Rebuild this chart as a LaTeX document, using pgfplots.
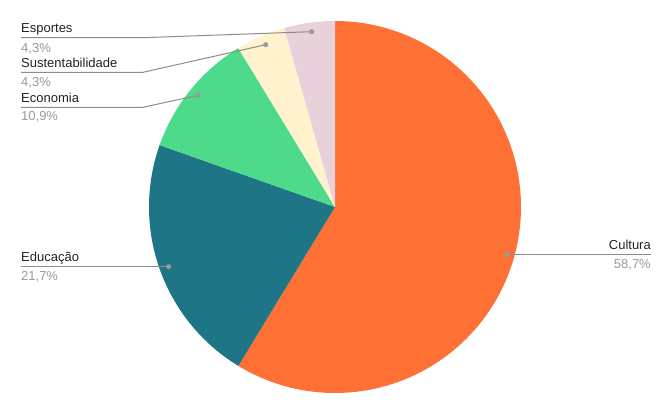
\documentclass[border=0pt]{standalone}
\usepackage{fontspec}
\setmainfont{Liberation Sans}
\usepackage{pgfplots}
\pgfplotsset{compat=1.18}
\definecolor{cCul}{RGB}{255,112,52}
\definecolor{cEdu}{RGB}{29,117,133}
\definecolor{cEco}{RGB}{77,219,139}
\definecolor{cSus}{RGB}{255,242,204}
\definecolor{cEsp}{RGB}{233,209,220}
\definecolor{lab}{RGB}{34,34,34}
\definecolor{pct}{RGB}{153,153,153}
\definecolor{lead}{RGB}{140,140,140}
% shares in percent
\def\pCul{58.7}\def\pEdu{21.7}\def\pEco{10.9}\def\pSus{4.3}\def\pEsp{4.3}
\def\cx{335}\def\cy{208}\def\rr{186}
\begin{document}
\begin{tikzpicture}
\begin{axis}[
  width=672bp, height=415bp, scale only axis,
  xmin=0, xmax=672, ymin=0, ymax=415,
  hide axis, clip=false,
  every axis plot/.append style={samples=120, variable=\t},
]
\path (axis cs:0,0) rectangle (axis cs:672,415);
% slices, clockwise from top
\addplot[fill=cCul, draw=none, domain={90}:{90-3.6*\pCul}]
  ({\cx+\rr*cos(\t)},{\cy+\rr*sin(\t)}) -- (axis cs:\cx,\cy) -- cycle;
\addplot[fill=cEdu, draw=none, domain={90-3.6*\pCul}:{90-3.6*(\pCul+\pEdu)}]
  ({\cx+\rr*cos(\t)},{\cy+\rr*sin(\t)}) -- (axis cs:\cx,\cy) -- cycle;
\addplot[fill=cEco, draw=none, domain={90-3.6*(\pCul+\pEdu)}:{90-3.6*(\pCul+\pEdu+\pEco)}]
  ({\cx+\rr*cos(\t)},{\cy+\rr*sin(\t)}) -- (axis cs:\cx,\cy) -- cycle;
\addplot[fill=cSus, draw=none, domain={90-3.6*(\pCul+\pEdu+\pEco)}:{90-3.6*(\pCul+\pEdu+\pEco+\pSus)}]
  ({\cx+\rr*cos(\t)},{\cy+\rr*sin(\t)}) -- (axis cs:\cx,\cy) -- cycle;
\addplot[fill=cEsp, draw=none, domain={90-3.6*(\pCul+\pEdu+\pEco+\pSus)}:{-270}]
  ({\cx+\rr*cos(\t)},{\cy+\rr*sin(\t)}) -- (axis cs:\cx,\cy) -- cycle;
% leader lines
\addplot[lead, line width=1bp] coordinates {(21,377.3) (143,377.3) (311.7,383.3)};
\addplot[lead, line width=1bp] coordinates {(21,342.7) (143,342.7) (265.7,370.3)};
\addplot[lead, line width=1bp] coordinates {(21,307.7) (143,307.7) (198,319.7)};
\addplot[lead, line width=1bp] coordinates {(21,148.3) (168.7,148.3)};
\addplot[lead, line width=1bp] coordinates {(507,160.3) (651,160.3)};
\addplot[only marks, mark=*, mark size=2.3bp, color=pct] coordinates {
  (311.7,383.3) (265.7,370.3) (198,319.7) (168.7,148.3) (507,160.3)};
% labels
\tikzset{lb/.style={font=\fontsize{13bp}{15bp}\selectfont, inner sep=0pt}}
\node[lb, text=lab, anchor=base west] at (axis cs:21,382.3) {Esportes};
\node[lb, text=pct, anchor=base west] at (axis cs:21,362.7) {4,3\%};
\node[lb, text=lab, anchor=base west] at (axis cs:21,347.7) {Sustentabilidade};
\node[lb, text=pct, anchor=base west] at (axis cs:21,328.3) {4,3\%};
\node[lb, text=lab, anchor=base west] at (axis cs:21,312.7) {Economia};
\node[lb, text=pct, anchor=base west] at (axis cs:21,294.3) {10,9\%};
\node[lb, text=lab, anchor=base west] at (axis cs:21,153.3) {Educação};
\node[lb, text=pct, anchor=base west] at (axis cs:21,134.3) {21,7\%};
\node[lb, text=lab, anchor=base east] at (axis cs:651,165) {Cultura};
\node[lb, text=pct, anchor=base east] at (axis cs:651,146) {58,7\%};
\end{axis}
\end{tikzpicture}
\end{document}
